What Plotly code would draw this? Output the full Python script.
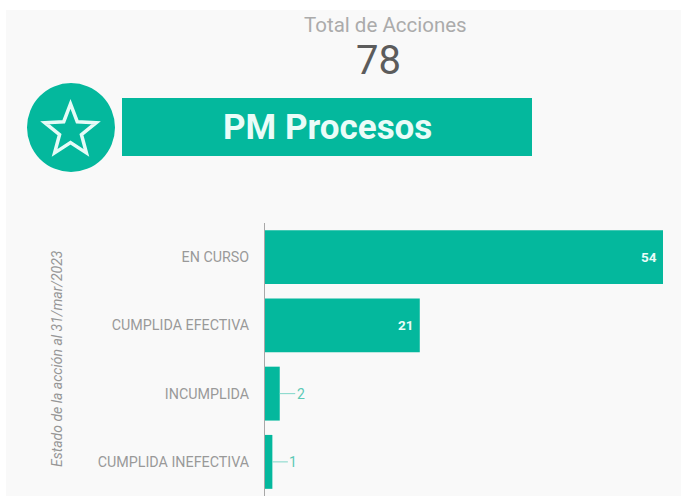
import math
import plotly.graph_objects as go

W, H = 681, 496
categories = ["EN CURSO", "CUMPLIDA EFECTIVA", "INCUMPLIDA", "CUMPLIDA INEFECTIVA"]
values = [54, 21, 2, 1]
axis_title = "Estado de la acción al 31/mar/2023"
header_label = "Total de Acciones"
header_total = "78"
banner_title = "PM Procesos"

TEAL = "#04b89d"
ML, MR, MT, MB = 265, 18, 223, 0
PW, PH = W - ML - MR, H - MT - MB


def px(x):
    return (x - ML) / PW


def py(y):
    return 1 - (y - MT) / PH


def rect(x0, y0, x1, y1, color, kind="rect", layer="below"):
    return dict(type=kind, xref="paper", yref="paper", x0=px(x0), x1=px(x1), y0=py(y0), y1=py(y1),
                fillcolor=color, line_width=0, layer=layer)


def star_path():
    cx, cy, R, r = 70.5, 131, 27, 11.5
    pts = []
    for i in range(10):
        rad = R if i % 2 == 0 else r
        a = -math.pi / 2 + i * math.pi / 5
        pts.append((px(cx + rad * math.cos(a)), py(cy + rad * math.sin(a))))
    return "M " + " L ".join(f"{a:.5f},{b:.5f}" for a, b in pts) + " Z"


def label(x, y, text, size, color, **kw):
    return dict(xref="paper", yref="paper", x=px(x), y=py(y), text=text, showarrow=False,
                xanchor="center", yanchor="middle",
                font=dict(family="Roboto", size=size, color=color), **kw)


fig = go.Figure(go.Bar(
    x=values, y=categories, orientation="h",
    marker=dict(color=TEAL, line_width=0),
    width=0.79,
    hoverinfo="skip",
))

shapes = [
    rect(6, 10, W, H, "#f9f9f9"),
    rect(122, 98, 532, 156, TEAL),
    rect(27, 83, 115, 172, TEAL, kind="circle"),
    dict(type="path", xref="paper", yref="paper", path=star_path(),
         line=dict(color="#e6fbf7", width=3.5), fillcolor="rgba(0,0,0,0)", layer="above"),
]

annotations = [
    label(385, 25, header_label, 20.5, "#ababab"),
    label(378, 61, header_total, 40, "#5c5c5c"),
    label(327, 128, f"<b>{banner_title}</b>", 35, "#eafcf8"),
    label(57, 358, f"<i>{axis_title}</i>", 14, "#969696", textangle=-90),
]

for cat, val in zip(categories, values):
    if val >= 10:
        annotations.append(dict(x=val, y=cat, text=f"<b>{val}</b>", showarrow=False, xanchor="right", xshift=-4,
                                font=dict(family="Roboto", size=13.5, color="#eafcf8")))
    else:
        annotations.append(dict(x=val, y=cat, text=str(val), showarrow=True, arrowhead=0, arrowwidth=1,
                                arrowcolor="#7fd6c8", ax=21, ay=0, standoff=0,
                                font=dict(family="Roboto", size=14, color="#5cc9b6")))

fig.update_layout(
    width=W, height=H, autosize=False,
    margin=dict(l=ML, r=MR, t=MT, b=MB, pad=0),
    paper_bgcolor="white", plot_bgcolor="rgba(0,0,0,0)",
    showlegend=False, shapes=shapes, annotations=annotations,
    xaxis=dict(range=[0, 54], visible=False, fixedrange=True),
    yaxis=dict(
        autorange="reversed", showline=True, linecolor="#a8a8a8", linewidth=1,
        showgrid=False, zeroline=False, ticks="", ticklabelstandoff=12, fixedrange=True,
        tickfont=dict(family="Roboto", size=14.3, color="#999999"),
    ),
)

fig.write_html("out.html", config={"displayModeBar": False},
               post_script="document.body.style.margin='0';document.body.style.overflow='hidden';")
